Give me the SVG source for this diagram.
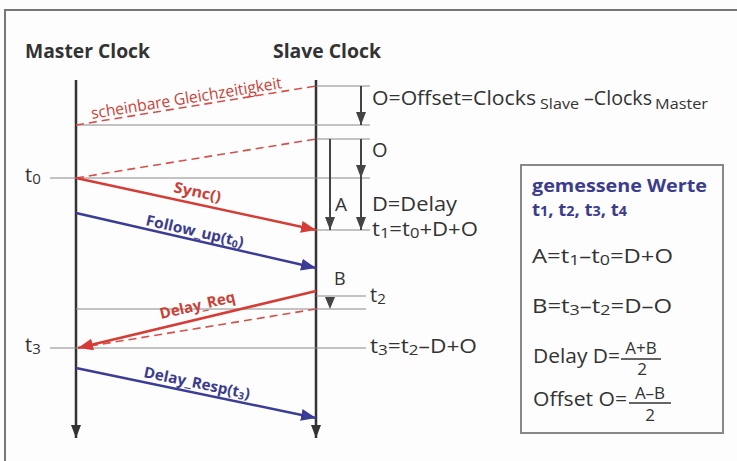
<svg xmlns="http://www.w3.org/2000/svg" width="737" height="461" viewBox="0 0 737 461">
<defs>
<style>
text{font-family:"Open Sans","Noto Sans","DejaVu Sans",sans-serif;}
.title{font-size:19px;font-weight:bold;fill:#333;}
.lbl{font-size:20px;fill:#333;}
.sub{font-size:15px;}
.frac{font-size:17px;}
.red{fill:#cc3f37;}
.blue{fill:#3b3c8e;}
.msg{font-size:15px;font-weight:bold;}
.thin{stroke:#8a8a8a;stroke-width:1.2;fill:none;}
.clock{stroke:#333;stroke-width:2.5;fill:none;}
.dn{stroke:#444;stroke-width:2;fill:none;}
.dash{stroke:#d5504a;stroke-width:1.6;stroke-dasharray:8 5;fill:none;}
.rl{stroke:#d63c36;stroke-width:2.5;fill:none;}
.bl{stroke:#3b3c95;stroke-width:2.5;fill:none;}
</style>
<marker id="ar" markerUnits="userSpaceOnUse" markerWidth="16" markerHeight="12" refX="15" refY="6" orient="auto"><path d="M0,0 L15,6 L0,12 z" fill="#d63c36"/></marker>
<marker id="ab" markerUnits="userSpaceOnUse" markerWidth="16" markerHeight="12" refX="15" refY="6" orient="auto"><path d="M0,0 L15,6 L0,12 z" fill="#3b3c95"/></marker>
<marker id="ak" markerUnits="userSpaceOnUse" markerWidth="14" markerHeight="12" refX="13" refY="5" orient="auto"><path d="M0,0 L13,5 L0,10 z" fill="#333"/></marker>
<marker id="ag" markerUnits="userSpaceOnUse" markerWidth="14" markerHeight="12" refX="13" refY="5" orient="auto"><path d="M0,0 L13,5 L0,10 z" fill="#444"/></marker>
</defs>
<rect x="0" y="0" width="737" height="461" fill="#fdfdfd"/>
<path d="M5,461 V10 H737" stroke="#777" stroke-width="2" fill="none"/>

<g id="master-clock">
<text class="title" x="25" y="58" textLength="125" lengthAdjust="spacingAndGlyphs">Master Clock</text>
<line class="clock" x1="76" y1="80" x2="76" y2="438" marker-end="url(#ak)"/>
<text class="lbl" x="25" y="182">t<tspan class="sub" dy="2">0</tspan></text>
<text class="lbl" x="25" y="352">t<tspan class="sub" dy="2">3</tspan></text>
</g>

<g id="slave-clock">
<text class="title" x="273" y="58" textLength="108" lengthAdjust="spacingAndGlyphs">Slave Clock</text>
<line class="clock" x1="316" y1="80" x2="316" y2="438" marker-end="url(#ak)"/>
</g>

<g id="time-lines">
<line class="thin" x1="316" y1="86" x2="370" y2="86"/>
<line class="thin" x1="76" y1="125" x2="370" y2="125"/>
<line class="thin" x1="316" y1="139" x2="370" y2="139"/>
<line class="thin" x1="50" y1="178" x2="370" y2="178"/>
<line class="thin" x1="316" y1="230" x2="370" y2="230"/>
<line class="thin" x1="316" y1="296" x2="366" y2="296"/>
<line class="thin" x1="76" y1="309" x2="366" y2="309"/>
<line class="thin" x1="50" y1="348" x2="366" y2="348"/>
</g>

<g id="intervals">
<line class="dn" x1="361" y1="86" x2="361" y2="125" marker-end="url(#ag)"/>
<line class="dn" x1="361" y1="139" x2="361" y2="178" marker-end="url(#ag)"/>
<line class="dn" x1="361" y1="178" x2="361" y2="230" marker-end="url(#ag)"/>
<line class="dn" x1="330" y1="139" x2="330" y2="230" marker-end="url(#ag)"/>
<polygon points="325,297 335,297 330,309" fill="#444"/>
<text class="lbl" x="372" y="105" textLength="164" lengthAdjust="spacingAndGlyphs">O=Offset=Clocks</text>
<text class="lbl" x="540" y="109" style="font-size:15px" textLength="39" lengthAdjust="spacingAndGlyphs">Slave</text>
<text class="lbl" x="584" y="105" textLength="68" lengthAdjust="spacingAndGlyphs">–Clocks</text>
<text class="lbl" x="655" y="109" style="font-size:15px" textLength="53" lengthAdjust="spacingAndGlyphs">Master</text>
<text class="lbl" x="372" y="157">O</text>
<text class="lbl" x="335" y="211" style="font-size:19px">A</text>
<text class="lbl" x="372" y="211" textLength="85" lengthAdjust="spacingAndGlyphs">D=Delay</text>
<text class="lbl" x="372" y="236" textLength="106" lengthAdjust="spacingAndGlyphs">t<tspan class="sub" dy="2">1</tspan><tspan dy="-2">=t</tspan><tspan class="sub" dy="2">0</tspan><tspan dy="-2">+D+O</tspan></text>
<text class="lbl" x="334" y="285" style="font-size:18px">B</text>
<text class="lbl" x="370" y="302">t<tspan class="sub" dy="2">2</tspan></text>
<text class="lbl" x="370" y="353" textLength="107" lengthAdjust="spacingAndGlyphs">t<tspan class="sub" dy="2">3</tspan><tspan dy="-2">=t</tspan><tspan class="sub" dy="2">2</tspan><tspan dy="-2">–D+O</tspan></text>
</g>

<g id="connectors">
<line class="dash" x1="76" y1="125" x2="316" y2="86"/>
<line class="dash" x1="76" y1="178" x2="316" y2="139"/>
<line class="dash" x1="316" y1="309" x2="84" y2="347"/>
<line class="rl" x1="76" y1="178" x2="316" y2="230" marker-end="url(#ar)"/>
<line class="bl" x1="76" y1="213" x2="316" y2="268" marker-end="url(#ab)"/>
<line class="rl" x1="316" y1="291" x2="78" y2="348" marker-end="url(#ar)"/>
<line class="bl" x1="76" y1="368" x2="316" y2="418" marker-end="url(#ab)"/>
<text class="red" x="92" y="119" transform="rotate(-9.2 92 119)" style="font-size:16px" textLength="193" lengthAdjust="spacingAndGlyphs">scheinbare Gleichzeitigkeit</text>
<text class="red msg" x="173" y="192" transform="rotate(12.2 173 192)" textLength="48" lengthAdjust="spacingAndGlyphs">Sync()</text>
<text class="blue msg" x="145" y="225" transform="rotate(12.9 145 225)" textLength="100" lengthAdjust="spacingAndGlyphs">Follow_up(t<tspan style="font-size:10px" dy="2">0</tspan><tspan dy="-2">)</tspan></text>
<text class="red msg" x="161" y="319" transform="rotate(-13 161 319)" textLength="77" lengthAdjust="spacingAndGlyphs">Delay_Req</text>
<text class="blue msg" x="143" y="377" transform="rotate(11.8 143 377)" textLength="108" lengthAdjust="spacingAndGlyphs">Delay_Resp(t<tspan style="font-size:10px" dy="2">3</tspan><tspan dy="-2">)</tspan></text>
</g>

<g id="measured-values">
<rect x="521" y="165" width="202" height="268" fill="none" stroke="#888" stroke-width="2"/>
<text class="blue" x="532" y="192" style="font-size:18px;font-weight:bold" textLength="175" lengthAdjust="spacingAndGlyphs">gemessene Werte</text>
<text class="blue" x="532" y="216" style="font-size:18px;font-weight:bold" textLength="95" lengthAdjust="spacingAndGlyphs">t<tspan style="font-size:14px">1</tspan>, t<tspan style="font-size:14px">2</tspan>, t<tspan style="font-size:14px">3</tspan>, t<tspan style="font-size:14px">4</tspan></text>
<text class="lbl" x="532" y="263" textLength="141" lengthAdjust="spacingAndGlyphs">A=t<tspan class="sub" dy="2">1</tspan><tspan dy="-2">–t</tspan><tspan class="sub" dy="2">0</tspan><tspan dy="-2">=D+O</tspan></text>
<text class="lbl" x="532" y="313" textLength="140" lengthAdjust="spacingAndGlyphs">B=t<tspan class="sub" dy="2">3</tspan><tspan dy="-2">–t</tspan><tspan class="sub" dy="2">2</tspan><tspan dy="-2">=D–O</tspan></text>
<text class="lbl" x="533" y="363" textLength="87" lengthAdjust="spacingAndGlyphs">Delay D=</text>
<text class="lbl frac" x="641" y="354" text-anchor="middle">A+B</text>
<line x1="621" y1="359" x2="661" y2="359" stroke="#333" stroke-width="1.3"/>
<text class="lbl frac" x="642" y="375" text-anchor="middle">2</text>
<text class="lbl" x="533" y="406" textLength="94" lengthAdjust="spacingAndGlyphs">Offset O=</text>
<text class="lbl frac" x="650" y="399" text-anchor="middle">A–B</text>
<line x1="629" y1="403" x2="671" y2="403" stroke="#333" stroke-width="1.3"/>
<text class="lbl frac" x="650" y="421" text-anchor="middle">2</text>
</g>
</svg>
